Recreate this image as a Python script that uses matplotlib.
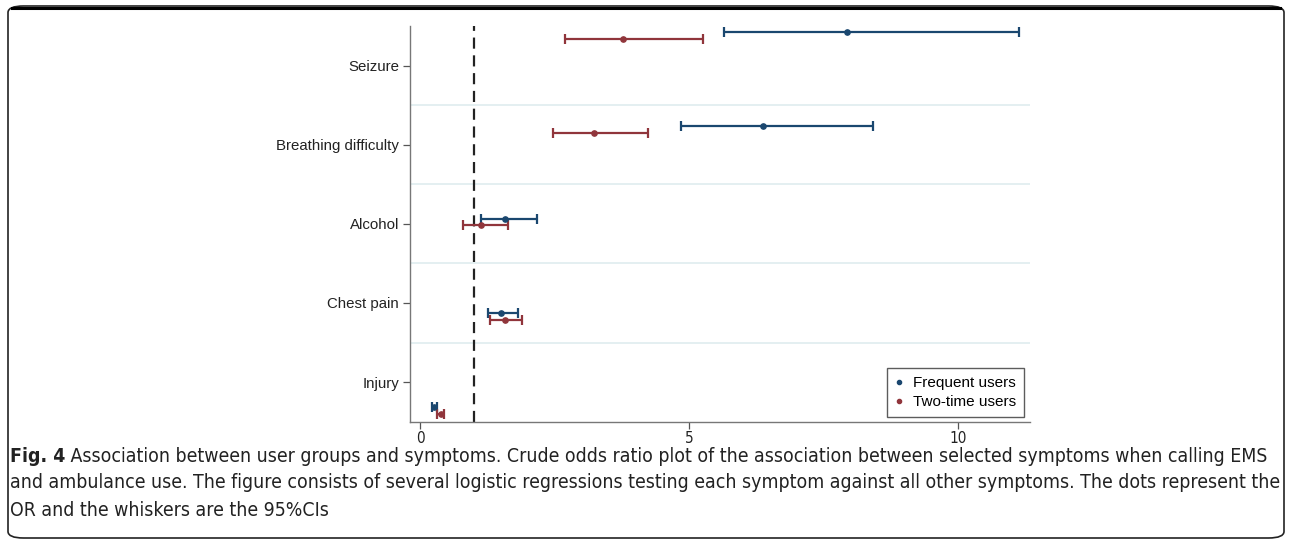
import matplotlib
matplotlib.use("Agg")
import matplotlib.pyplot as plt
from matplotlib.patches import FancyBboxPatch
from matplotlib.lines import Line2D

# symptoms, top to bottom
symptoms = ["Seizure", "Breathing difficulty", "Alcohol", "Chest pain", "Injury"]

# crude odds ratios and 95% CIs
freq_or = [7.93, 6.38, 1.57, 1.50, 0.25]
freq_lo = [5.65, 4.84, 1.13, 1.25, 0.21]
freq_hi = [11.13, 8.41, 2.16, 1.81, 0.30]

two_or = [3.77, 3.23, 1.13, 1.57, 0.38]
two_lo = [2.69, 2.46, 0.79, 1.29, 0.31]
two_hi = [5.26, 4.24, 1.62, 1.89, 0.44]

# vertical placement of the markers relative to each category tick
freq_off = [0.42, 0.24, 0.06, -0.13, -0.32]
two_off = [0.33, 0.15, -0.02, -0.22, -0.40]

caption_bold = "Fig. 4"
caption_lines = [
    " Association between user groups and symptoms. Crude odds ratio plot of the association between selected symptoms when calling EMS",
    "and ambulance use. The figure consists of several logistic regressions testing each symptom against all other symptoms. The dots represent the",
    "OR and the whiskers are the 95%CIs",
]

blue = "#1a476f"
red = "#90353b"
cap_font = ["DejaVu Sans"]

plt.rcParams["font.family"] = ["Liberation Sans", "DejaVu Sans"]

W, H = 1292, 546
fig = plt.figure(figsize=(W / 100, H / 100), dpi=100)

# rounded frame around the whole figure
frame = FancyBboxPatch((8 / W, 8 / H), 1276 / W, 532 / H,
                       boxstyle="round,pad=0,rounding_size=0.012",
                       transform=fig.transFigure, fill=False,
                       edgecolor="#222222", linewidth=1.2)
fig.patches.append(frame)
fig.add_artist(Line2D([12 / W, 1280 / W], [1 - 8 / H, 1 - 8 / H],
                      transform=fig.transFigure, color="black", linewidth=2.2))

ax = fig.add_axes([410 / W, (H - 421.7) / H, 620 / W, 395.7 / H])

n = len(symptoms)
ypos = [n - i for i in range(n)]

for i in range(n):
    y = ypos[i]
    ax.errorbar(freq_or[i], y + freq_off[i],
                xerr=[[freq_or[i] - freq_lo[i]], [freq_hi[i] - freq_or[i]]],
                fmt="o", color=blue, ms=3.8, elinewidth=1.6, capsize=3.5,
                capthick=1.6)
    ax.errorbar(two_or[i], y + two_off[i],
                xerr=[[two_or[i] - two_lo[i]], [two_hi[i] - two_or[i]]],
                fmt="o", color=red, ms=3.8, elinewidth=1.6, capsize=3.5,
                capthick=1.6)

# separators between categories
for k in range(1, n):
    ax.axhline(k + 0.5, color="#e2eef0", linewidth=1.3, zorder=0)

ax.axvline(1, color="#222222", linestyle=(0, (5, 3)), linewidth=1.6, zorder=1)

ax.set_xlim(-0.195, 11.34)
ax.set_ylim(0.5, 5.5)
ax.set_yticks(ypos)
ax.set_yticklabels(symptoms, fontsize=10.8, color="#222222")
ax.set_xticks([0, 5, 10])
ax.set_xticklabels(["0", "5", "10"], fontsize=11, family=cap_font,
                   stretch="condensed", color="#222222")

for s in ["top", "right"]:
    ax.spines[s].set_visible(False)
for s in ["left", "bottom"]:
    ax.spines[s].set_color("#777777")
    ax.spines[s].set_linewidth(1.0)
ax.tick_params(axis="both", colors="#555555", length=5, width=0.9, pad=3)
ax.tick_params(axis="both", labelcolor="#222222")
ax.tick_params(axis="x", pad=1.5)

handles = [Line2D([], [], marker="o", linestyle="none", color=blue, ms=3),
           Line2D([], [], marker="o", linestyle="none", color=red, ms=3)]
leg = ax.legend(handles, ["Frequent users", "Two-time users"],
                loc="lower right", bbox_to_anchor=(0.99, 0.012),
                borderaxespad=0, fontsize=11, frameon=True, fancybox=False,
                handlelength=0.6, handletextpad=0.6, borderpad=0.5,
                labelspacing=0.35)
leg.get_frame().set_edgecolor("#333333")
leg.get_frame().set_linewidth(1.0)

# caption, sized so the widest line fits inside the frame
renderer = fig.canvas.get_renderer()
base = 12
probes = [fig.text(0, 0, caption_bold, fontsize=base, family=cap_font,
                   stretch="condensed", weight="bold")]
probes += [fig.text(0, 0, t, fontsize=base, family=cap_font,
                    stretch="condensed") for t in caption_lines[:2]]
widths = [p.get_window_extent(renderer).width for p in probes]
for p in probes:
    p.remove()
widest = max(widths[0] + widths[1], widths[2])
cap_size = base * 1266 / widest

line_y = [456, 483, 510]
t0 = fig.text(10 / W, 1 - line_y[0] / H, caption_bold, fontsize=cap_size,
              family=cap_font, stretch="condensed", weight="bold",
              va="center", ha="left", color="#222222")
bb = t0.get_window_extent(renderer)
fig.text(bb.x1 / W, 1 - line_y[0] / H, caption_lines[0], fontsize=cap_size,
         family=cap_font, stretch="condensed", va="center", ha="left",
         color="#222222")
for txt, yy in zip(caption_lines[1:], line_y[1:]):
    fig.text(10 / W, 1 - yy / H, txt, fontsize=cap_size, family=cap_font,
             stretch="condensed", va="center", ha="left", color="#222222")

fig.savefig("out.png", dpi=100)
